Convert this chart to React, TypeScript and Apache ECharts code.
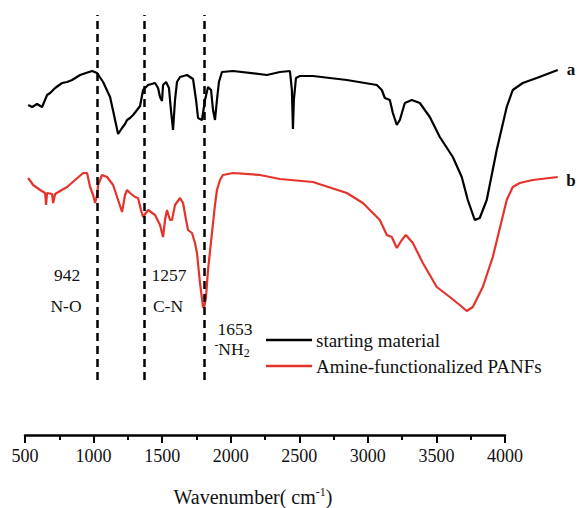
import React, { useEffect, useRef } from "react";
import * as echarts from "echarts";

// Wavenumber (cm-1) and transmittance (a.u.)
const waveA = [487, 513, 546, 579, 612, 632, 665, 711, 744, 777, 830, 869, 909, 942, 982, 1028, 1054, 1081, 1107, 1127, 1140, 1160, 1180, 1206, 1226, 1246, 1279, 1325, 1345, 1358, 1371, 1378, 1398, 1417, 1430, 1444, 1457, 1470, 1490, 1536, 1576, 1596, 1609, 1635, 1655, 1675, 1695, 1708, 1721, 1734, 1747, 1767, 1840, 2064, 2150, 2216, 2229, 2236, 2242, 2256, 2282, 2368, 2592, 2790, 2823, 2843, 2876, 2896, 2922, 2942, 2975, 3021, 3074, 3140, 3206, 3292, 3351, 3391, 3437, 3470, 3516, 3582, 3648, 3688, 3754, 3846, 3985];
const transA = [73.75, 73.25, 74, 73.25, 76.25, 76.75, 78, 79.25, 79.5, 80, 81.25, 81.75, 82.25, 81.75, 79.5, 75.75, 71.25, 66.5, 68, 69, 70, 70.5, 71.25, 72.5, 73.5, 77.5, 78.75, 79.25, 78, 75.75, 74.75, 78.75, 79.5, 78, 72.5, 67.5, 75, 79.5, 80.75, 81.25, 80.25, 75, 70.5, 70, 75, 78.25, 77.5, 72.5, 70, 75, 79.5, 82, 82.25, 81.25, 82, 82.25, 77.5, 67.75, 75, 80.5, 81, 81, 80, 78.75, 77.5, 75.5, 75, 71.75, 68.75, 70, 74.25, 75, 74.25, 70.75, 65.75, 60.75, 55.75, 50, 45, 45.5, 50, 62.5, 73.25, 77.5, 79.25, 80.5, 82.5];

const waveB = [487, 520, 566, 599, 605, 612, 645, 652, 665, 698, 744, 797, 850, 876, 896, 916, 929, 942, 949, 975, 1008, 1048, 1081, 1107, 1127, 1140, 1160, 1193, 1213, 1232, 1246, 1279, 1325, 1358, 1378, 1391, 1404, 1424, 1437, 1457, 1490, 1510, 1530, 1543, 1569, 1589, 1602, 1622, 1642, 1648, 1661, 1675, 1701, 1721, 1734, 1754, 1774, 1840, 2018, 2150, 2368, 2592, 2698, 2810, 2856, 2889, 2922, 2955, 2982, 3028, 3094, 3186, 3272, 3338, 3384, 3424, 3490, 3556, 3648, 3688, 3734, 3820, 3985];
const transB = [55.5, 53.75, 52.5, 51.75, 48.75, 51.75, 51.5, 49.25, 51.5, 52.25, 53.25, 55, 56.75, 56.75, 53.25, 51.25, 49.25, 51.25, 53.75, 56.25, 55.75, 53.75, 50, 47, 51.25, 52.5, 51.75, 50.75, 50.5, 47.5, 45.75, 47.5, 46.25, 43.75, 40.75, 45, 47.5, 45, 45, 48.75, 50.5, 49.25, 45, 42.5, 41.75, 39.25, 36.75, 29.25, 23.25, 23, 25.5, 32.5, 41.75, 48.75, 52.5, 55, 56.25, 56.75, 56.25, 55.25, 54.5, 51.75, 49.25, 45, 41.25, 40.75, 38, 40, 41.25, 39.25, 34.25, 28.25, 25.75, 23.75, 22.25, 23.25, 28.25, 35.75, 50, 53.25, 54.25, 55, 55.75];

const seriesNames = ["starting material", "Amine-functionalized PANFs"];
const markedWaves = [942, 1257, 1653];
const axisMin = 500;
const axisMax = 4000;
const axisStep = 500;

const SERIF = "'Liberation Serif', 'Times New Roman', serif";
const RED = "#e5332c";

export default function App() {
  const ref = useRef<HTMLDivElement>(null);
  useEffect(() => {
    if (!ref.current) return;
    const chart = echarts.init(ref.current, undefined, { renderer: "svg" });
    const dataA = waveA.map((w, i) => [w, transA[i]]);
    const dataB = waveB.map((w, i) => [w, transB[i]]);
    const txt = (text: string, x: number, y: number, extra: any = {}) => ({
      type: "text",
      x,
      y,
      style: {
        text,
        fontFamily: SERIF,
        fontSize: 17.5,
        fill: "#111",
        align: "center",
        verticalAlign: "middle",
        ...extra,
      },
    });
    chart.setOption({
      animation: false,
      backgroundColor: "#fff",
      textStyle: { fontFamily: SERIF },
      grid: [
        { left: 15, right: 19, top: 15, bottom: 128 },
        { left: 25, right: 74, top: 425, height: 10 },
      ],
      xAxis: [
        { type: "value", gridIndex: 0, min: 400, max: 4000, show: false },
        {
          type: "value",
          gridIndex: 1,
          min: axisMin,
          max: axisMax,
          interval: axisStep,
          position: "bottom",
          splitLine: { show: false },
          axisLine: { show: true, lineStyle: { color: "#000", width: 2.5 } },
          axisTick: { show: true, inside: false, length: 8, lineStyle: { color: "#000", width: 2 } },
          minorTick: { show: true, splitNumber: 2, length: 5, lineStyle: { color: "#000", width: 2 } },
          axisLabel: {
            fontFamily: SERIF,
            fontSize: 18,
            color: "#111",
            margin: 12,
            formatter: (v: number) => String(v),
          },
          name: "{t|Wavenumber( cm}{sup|-1}{t|)}",
          nameLocation: "middle",
          nameGap: 51,
          nameTextStyle: {
            fontFamily: SERIF,
            fontSize: 20,
            color: "#111",
            padding: [0, 24, 0, 0],
            rich: {
              t: { fontFamily: SERIF, fontSize: 20, color: "#111" },
              sup: { fontFamily: SERIF, fontSize: 12, color: "#111", verticalAlign: "top", padding: [0, 0, 9, 0] },
            },
          },
        },
      ],
      yAxis: [
        { type: "value", gridIndex: 0, min: 5, max: 96.25, show: false },
        { type: "value", gridIndex: 1, min: 0, max: 1, show: false },
      ],
      legend: {
        orient: "vertical",
        left: 266,
        top: 330,
        padding: 0,
        icon: "rect",
        itemWidth: 46,
        itemHeight: 2.5,
        itemGap: 6,
        data: seriesNames,
        textStyle: { fontFamily: SERIF, fontSize: 19, color: "#111", lineHeight: 20, padding: [0, 0, 0, -1] },
      },
      series: [
        {
          name: seriesNames[0],
          type: "line",
          xAxisIndex: 0,
          yAxisIndex: 0,
          data: dataA,
          showSymbol: false,
          color: "#000",
          lineStyle: { color: "#000", width: 2.2 },
          markLine: {
            silent: true,
            symbol: "none",
            label: { show: false },
            lineStyle: { color: "#000", width: 2.5, type: [8, 5] },
            data: markedWaves.map((w) => ({ xAxis: w })),
          },
        },
        {
          name: seriesNames[1],
          type: "line",
          xAxisIndex: 0,
          yAxisIndex: 0,
          data: dataB,
          showSymbol: false,
          color: RED,
          lineStyle: { color: RED, width: 2.2 },
        },
        {
          type: "line",
          xAxisIndex: 1,
          yAxisIndex: 1,
          data: [],
        },
      ],
      graphic: [
        txt("942", 67, 275),
        txt("N-O", 66, 306),
        txt("1257", 169, 275),
        txt("C-N", 168, 306),
        txt("1653", 235, 329),
        {
          type: "text",
          x: 232,
          y: 349,
          style: {
            text: "{sup|-}{t|NH}{sub|2}",
            fontFamily: SERIF,
            fontSize: 17.5,
            fill: "#111",
            align: "center",
            verticalAlign: "middle",
            rich: {
              t: { fontFamily: SERIF, fontSize: 17.5, fill: "#111" },
              sup: { fontFamily: SERIF, fontSize: 12, fill: "#111", verticalAlign: "top", padding: [0, 0, 8, 0] },
              sub: { fontFamily: SERIF, fontSize: 12, fill: "#111", verticalAlign: "bottom", padding: [8, 0, 0, 0] },
            },
          },
        },
        txt("a", 571, 69, { fontWeight: "bold", fontSize: 17 }),
        txt("b", 571, 180, { fontWeight: "bold", fontSize: 17 }),
      ],
    });
    return () => chart.dispose();
  }, []);
  return (
    <div
      ref={ref}
      style={{ position: "absolute", left: 0, top: 0, width: 579, height: 508, background: "#fff" }}
    />
  );
}
